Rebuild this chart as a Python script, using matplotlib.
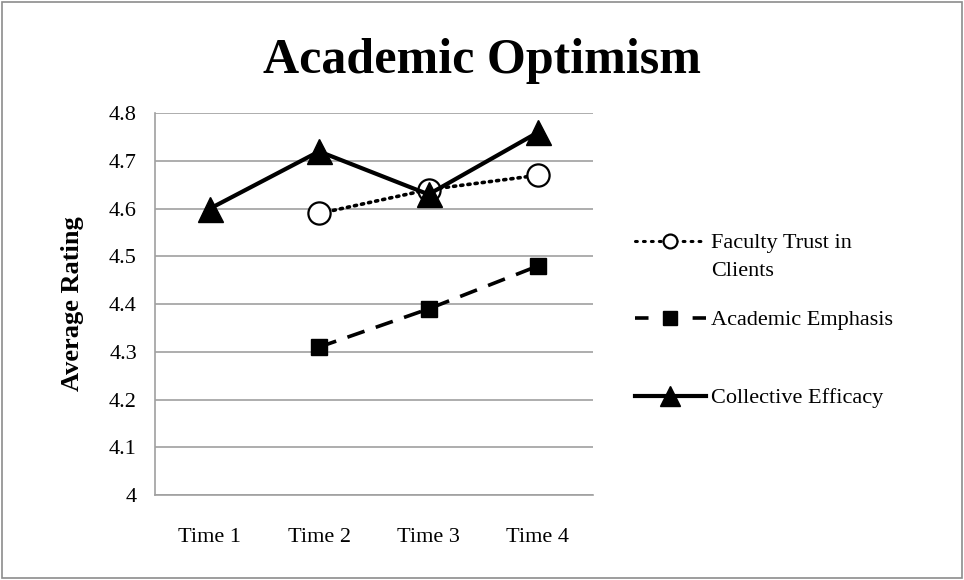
import matplotlib
matplotlib.use("Agg")
import matplotlib.pyplot as plt
from matplotlib.lines import Line2D
from matplotlib.patches import Rectangle

# Chart data
times = ["Time 1", "Time 2", "Time 3", "Time 4"]
faculty_trust = [None, 4.59, 4.64, 4.67]
academic_emphasis = [None, 4.31, 4.39, 4.48]
collective_efficacy = [4.60, 4.72, 4.63, 4.76]
y_ticks = [4, 4.1, 4.2, 4.3, 4.4, 4.5, 4.6, 4.7, 4.8]
y_tick_labels = ["4", "4.1", "4.2", "4.3", "4.4", "4.5", "4.6", "4.7", "4.8"]

SERIF = ["Liberation Serif", "DejaVu Serif"]
plt.rcParams["font.family"] = SERIF

fig = plt.figure(figsize=(9.64, 5.8), dpi=100)
ax = fig.add_axes([0.1608, 0.1466, 0.4540, 0.6581])

x = list(range(len(times)))


def pts(vals):
    xs = [i for i, v in zip(x, vals) if v is not None]
    ys = [v for v in vals if v is not None]
    return xs, ys


style_ft = dict(color="black", linestyle=(0, (0.6, 1.4)), linewidth=2.6,
                marker="o", markersize=16, markerfacecolor="white",
                markeredgecolor="black", markeredgewidth=1.6,
                dash_capstyle="round")
style_ae = dict(color="black", linestyle=(0, (5, 3.3)), linewidth=2.6,
                marker="s", markersize=11, markerfacecolor="black",
                markeredgecolor="black")
style_ce = dict(color="black", linestyle="-", linewidth=3.0,
                marker="^", markersize=18, markerfacecolor="black",
                markeredgecolor="black")

ax.plot(*pts(faculty_trust), zorder=3, **style_ft)
ax.plot(*pts(academic_emphasis), zorder=3, **style_ae)
ax.plot(*pts(collective_efficacy), zorder=4, **style_ce)

ax.set_xlim(-0.5, len(times) - 0.5)
ax.set_ylim(4, 4.8)
ax.set_yticks(y_ticks)
ax.set_yticklabels(y_tick_labels, fontsize=16)
ax.set_xticks(x)
ax.set_xticklabels(times, fontsize=16)
ax.tick_params(axis="both", length=0)
ax.tick_params(axis="y", pad=13)
ax.tick_params(axis="x", pad=24)
ax.yaxis.grid(True, color="#a0a0a0", linewidth=1.2)
ax.set_axisbelow(True)
for side in ("top", "right"):
    ax.spines[side].set_visible(False)
for side in ("left", "bottom"):
    ax.spines[side].set_color("#a0a0a0")
    ax.spines[side].set_linewidth(1.2)

ax.set_ylabel("Average Rating", fontsize=19, fontweight="bold", labelpad=18)

fig.text(0.5, 0.895, "Academic Optimism", ha="center", va="center",
         fontsize=36, fontweight="bold")

# Legend entries (smaller markers than in the plot)
HANDLE_LEN = 3.2  # in font-size units (16 pt)
seg = HANDLE_LEN * 16 / 2.6  # handle length in line-width units
leg_ft = dict(style_ft, markersize=10, linestyle=(0, (0.6, 2.0)), linewidth=2.2)
leg_ae = dict(style_ae, markersize=10,
              linestyle=(0, (0.19 * seg, 0.62 * seg)))
leg_ce = dict(style_ce, markersize=14)
entries = [
    (leg_ft, "Faculty Trust in", 1 - 243 / 580),
    (leg_ae, "Academic Emphasis", 1 - 320 / 580),
    (leg_ce, "Collective Efficacy", 1 - 398 / 580),
]
for st, lab, yy in entries:
    h = Line2D([], [], **st)
    fig.legend([h], [lab], loc="center left",
               bbox_to_anchor=(0.6585, yy), frameon=False,
               fontsize=16, handlelength=HANDLE_LEN, handletextpad=0.25,
               borderpad=0, borderaxespad=0, numpoints=1)
fig.text(0.7375, 1 - 271 / 580, "Clients", ha="left", va="center", fontsize=16)

fig.patches.append(Rectangle((0.002, 0.004), 0.996, 0.992,
                             transform=fig.transFigure, fill=False,
                             edgecolor="#8c8c8c", linewidth=1.2))

fig.savefig("out.png", dpi=100, facecolor="white")
